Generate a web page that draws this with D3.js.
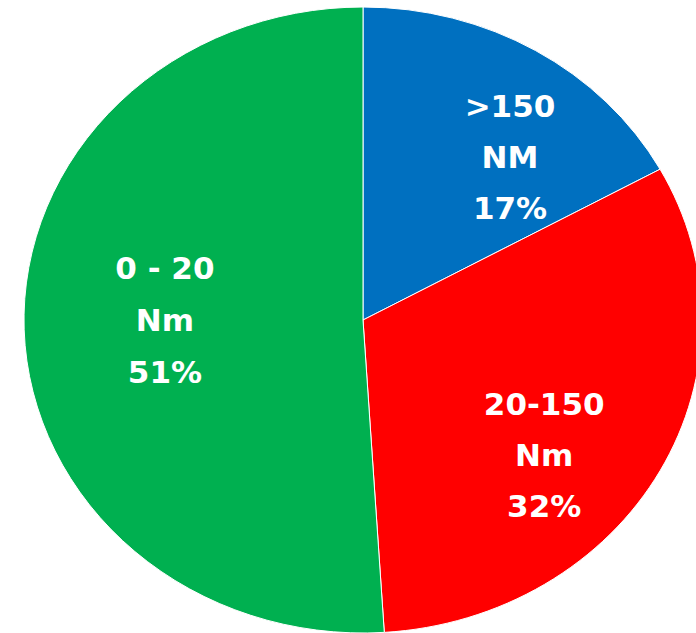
<!DOCTYPE html>
<html>
<head>
<meta charset="utf-8">
<script src="https://cdn.jsdelivr.net/npm/d3@7"></script>
<style>
  html, body { margin: 0; padding: 0; background: #fff; overflow: hidden; }
</style>
</head>
<body>
<div id="chart"></div>
<script>
// Chart data
const categories = [">150 NM", "20-150 Nm", "0 - 20 Nm"];
const labelLines = [[">150", "NM"], ["20-150", "Nm"], ["0 - 20", "Nm"]];
const shares = [17, 32, 51];
const colors = ["#0070C0", "#FF0000", "#00B050"];

const width = 696, height = 633;
const cx = 363, cy = 320;
const ry = 313, rx = 339;          // the pie is drawn a bit wider than tall
const lineGap = [51, 51, 52];
// label offsets from the arc centroid, pixels
const nudge = [[40, 4], [-3, 42], [12, -6]];

const svg = d3.select("#chart")
    .append("svg")
    .attr("width", width)
    .attr("height", height);

const pie = d3.pie()
    .sort(null)
    .value(d => d.value);

const data = categories.map((c, i) => ({ name: c, value: shares[i], lines: labelLines[i], color: colors[i] }));
const arcs = pie(data);

const arc = d3.arc().innerRadius(0).outerRadius(ry);
const labelArc = d3.arc().innerRadius(ry * 0.62).outerRadius(ry * 0.62);

// Slices, stretched horizontally
const g = svg.append("g")
    .attr("transform", `translate(${cx},${cy}) scale(${rx / ry},1)`);

g.selectAll("path")
    .data(arcs)
    .join("path")
    .attr("d", arc)
    .attr("fill", d => d.data.color)
    .attr("stroke", "#fff")
    .attr("stroke-width", 1)
    .attr("vector-effect", "non-scaling-stroke");

// Labels, not stretched
const lg = svg.append("g")
    .attr("transform", `translate(${cx},${cy})`)
    .attr("font-family", "'DejaVu Sans', sans-serif")
    .attr("font-weight", "bold")
    .attr("font-size", 31)
    .attr("fill", "#fff")
    .attr("text-anchor", "middle");

lg.selectAll("text")
    .data(arcs)
    .join("text")
    .attr("transform", (d, i) => {
        const [x, y] = labelArc.centroid(d);
        return `translate(${x * rx / ry + nudge[i][0]},${y + nudge[i][1] + 11})`;
    })
    .each(function (d, i) {
        const t = d3.select(this);
        const rows = [...d.data.lines, d.data.value + "%"];
        rows.forEach((r, k) => {
            t.append("tspan")
                .attr("x", 0)
                .attr("y", (k - 1) * lineGap[i])
                .text(r);
        });
    });
</script>
</body>
</html>
